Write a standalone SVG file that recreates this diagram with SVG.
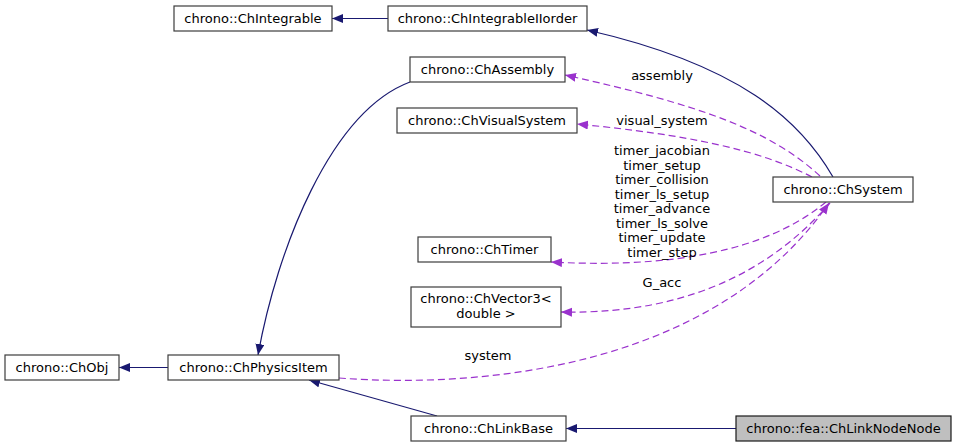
<svg xmlns="http://www.w3.org/2000/svg" width="956" height="448" viewBox="0 0 956 448">
<style>
.box{fill:#ffffff;stroke:#3c3c3c;stroke-width:1.2}
.cur{fill:#bfbfbf;stroke:#1a1a1a;stroke-width:1.2}
text{font-family:"DejaVu Sans",sans-serif;font-size:13px;fill:#000;text-anchor:middle}
.inh{fill:none;stroke:#191970;stroke-width:1.2}
.use{fill:none;stroke:#9a32cd;stroke-width:1.2;stroke-dasharray:7,4}
</style>
<defs>
<marker id="ah" markerUnits="userSpaceOnUse" markerWidth="12" markerHeight="10" refX="11" refY="4.5" orient="auto">
<path d="M0,0 L11,4.5 L0,9 z" fill="#191970"/>
</marker>
<marker id="ap" markerUnits="userSpaceOnUse" markerWidth="12" markerHeight="10" refX="11" refY="4.5" orient="auto">
<path d="M0,0 L11,4.5 L0,9 z" fill="#9a32cd"/>
</marker>
</defs>
<rect width="956" height="448" fill="#ffffff"/>
<g id="edges">
<path class="inh" d="M388,18.5 L332,18.5" marker-end="url(#ah)"/>
<path class="inh" d="M833,177 C800,120 740,65 587,30" marker-end="url(#ah)"/>
<path class="inh" d="M410,82 C330,112 277,250 258,355" marker-end="url(#ah)"/>
<path class="inh" d="M168,367.5 L119,367.5" marker-end="url(#ah)"/>
<path class="inh" d="M437,416 L309,380" marker-end="url(#ah)"/>
<path class="inh" d="M736,428.5 L566,428.5" marker-end="url(#ah)"/>
<path class="use" d="M820,176 C770,130 700,105 565,75" marker-end="url(#ap)"/>
<path class="use" d="M812,177 C760,150 690,135 577,124" marker-end="url(#ap)"/>
<path class="use" d="M826,202 C780,240 700,270 551,262" marker-end="url(#ap)"/>
<path class="use" d="M830,203 C780,260 700,315 561,312" marker-end="url(#ap)"/>
<path class="use" d="M339,378 C500,390 720,360 829,203" marker-end="url(#ap)"/>
</g>
<g id="labels">
<text x="662" y="80">assembly</text>
<text x="662" y="125">visual_system</text>
<text x="662" y="155">timer_jacobian</text>
<text x="662" y="169.5">timer_setup</text>
<text x="662" y="184">timer_collision</text>
<text x="662" y="198.5">timer_ls_setup</text>
<text x="662" y="213">timer_advance</text>
<text x="662" y="227.5">timer_ls_solve</text>
<text x="662" y="242">timer_update</text>
<text x="662" y="256.5">timer_step</text>
<text x="662" y="287">G_acc</text>
<text x="488" y="360">system</text>
</g>
<g id="ChIntegrable"><rect class="box" x="174" y="6" width="158" height="25"/><text x="253" y="23">chrono::ChIntegrable</text></g>
<g id="ChIntegrableIIorder"><rect class="box" x="388" y="6" width="199" height="25"/><text x="487.5" y="23">chrono::ChIntegrableIIorder</text></g>
<g id="ChAssembly"><rect class="box" x="410" y="57" width="155" height="25"/><text x="487.5" y="74">chrono::ChAssembly</text></g>
<g id="ChVisualSystem"><rect class="box" x="397" y="108" width="180" height="25"/><text x="487" y="125">chrono::ChVisualSystem</text></g>
<g id="ChSystem"><rect class="box" x="773" y="177" width="140" height="25"/><text x="843" y="194">chrono::ChSystem</text></g>
<g id="ChTimer"><rect class="box" x="418" y="237" width="133" height="25"/><text x="484.5" y="254">chrono::ChTimer</text></g>
<g id="ChVector3"><rect class="box" x="411" y="287" width="150" height="40"/><text x="486" y="303">chrono::ChVector3&lt;</text><text x="486" y="318">double &gt;</text></g>
<g id="ChObj"><rect class="box" x="5" y="355" width="114" height="25"/><text x="62" y="372">chrono::ChObj</text></g>
<g id="ChPhysicsItem"><rect class="box" x="168" y="355" width="171" height="25"/><text x="253.5" y="372">chrono::ChPhysicsItem</text></g>
<g id="ChLinkBase"><rect class="box" x="411" y="416" width="155" height="25"/><text x="488.5" y="433">chrono::ChLinkBase</text></g>
<g id="ChLinkNodeNode"><rect class="cur" x="736" y="416" width="215" height="25"/><text x="843.5" y="433">chrono::fea::ChLinkNodeNode</text></g>
</svg>
